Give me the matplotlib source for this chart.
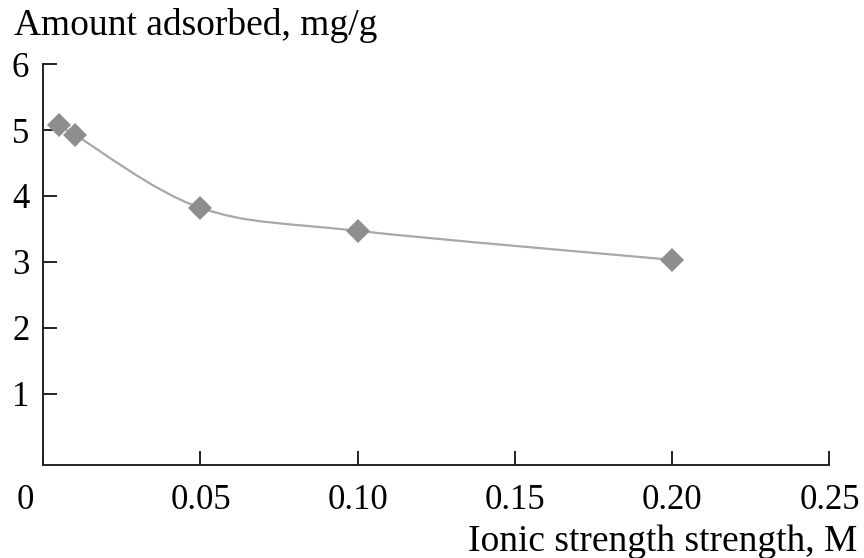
import numpy as np
import matplotlib
matplotlib.use("Agg")
import matplotlib.pyplot as plt
from matplotlib.path import Path
from matplotlib.patches import PathPatch
import matplotlib.transforms as mtransforms

plt.rcParams['font.family'] = ['Liberation Serif', 'DejaVu Serif']

# ionic strength (M) and amount adsorbed (mg/g)
ionic_strength = [0.005, 0.01, 0.05, 0.10, 0.20]
adsorbed = [5.07, 4.93, 3.82, 3.47, 3.03]

x_ticks = [0, 0.05, 0.10, 0.15, 0.20, 0.25]
x_tick_labels = ["0", "0.05", "0.10", "0.15", "0.20", "0.25"]
y_ticks = [1, 2, 3, 4, 5, 6]
y_tick_labels = ["1", "2", "3", "4", "5", "6"]


def smooth_path(xs, ys):
    # cubic bezier through the points (catmull-rom style control points)
    pts = np.column_stack([xs, ys]).astype(float)
    n = len(pts)
    verts = [pts[0]]
    codes = [Path.MOVETO]
    for i in range(n - 1):
        p0 = pts[i - 1] if i > 0 else pts[i]
        p1 = pts[i]
        p2 = pts[i + 1]
        p3 = pts[i + 2] if i + 2 < n else pts[i + 1]
        c1 = p1 + (p2 - p0) / 6.0
        c2 = p2 - (p3 - p1) / 6.0
        verts += [c1, c2, p2]
        codes += [Path.CURVE4] * 3
    return Path(verts, codes)


fig = plt.figure(figsize=(8.64, 5.58), dpi=100)
ax = fig.add_axes([0.050, 0.167, 0.910, 0.718])

ax.add_patch(PathPatch(smooth_path(ionic_strength, adsorbed), facecolor='none',
                       edgecolor='#a8a8a8', lw=1.6, zorder=2))
ax.plot(ionic_strength, adsorbed, linestyle='none', marker='D', markersize=12.5,
        color='#8e8e8e', markeredgewidth=0, zorder=3)

ax.set_xlim(0, 0.25)
ax.set_ylim(-0.08, 6)
ax.spines['top'].set_visible(False)
ax.spines['right'].set_visible(False)
ax.spines['bottom'].set_position(('data', -0.08))
for s in ['left', 'bottom']:
    ax.spines[s].set_linewidth(1.4)
    ax.spines[s].set_color('#222222')

ax.set_xticks(x_ticks)
ax.set_xticklabels(x_tick_labels)
ax.set_yticks(y_ticks)
ax.set_yticklabels(y_tick_labels)
ax.tick_params(axis='both', direction='in', length=10, width=1.4,
               color='#222222', labelsize=25)
ax.tick_params(axis='x', pad=14)
ax.tick_params(axis='y', pad=10)

# the zero label sits left of the corner
lbl0 = ax.get_xticklabels()[0]
lbl0.set_transform(lbl0.get_transform() +
                   mtransforms.ScaledTranslation(-0.18, 0, fig.dpi_scale_trans))

fig.text(0.016, 0.955, "Amount adsorbed, mg/g", fontsize=27, ha='left', va='center')
fig.text(0.992, 0.030, "Ionic strength strength, M", fontsize=27, ha='right', va='center')

fig.savefig("out.png", dpi=100)
